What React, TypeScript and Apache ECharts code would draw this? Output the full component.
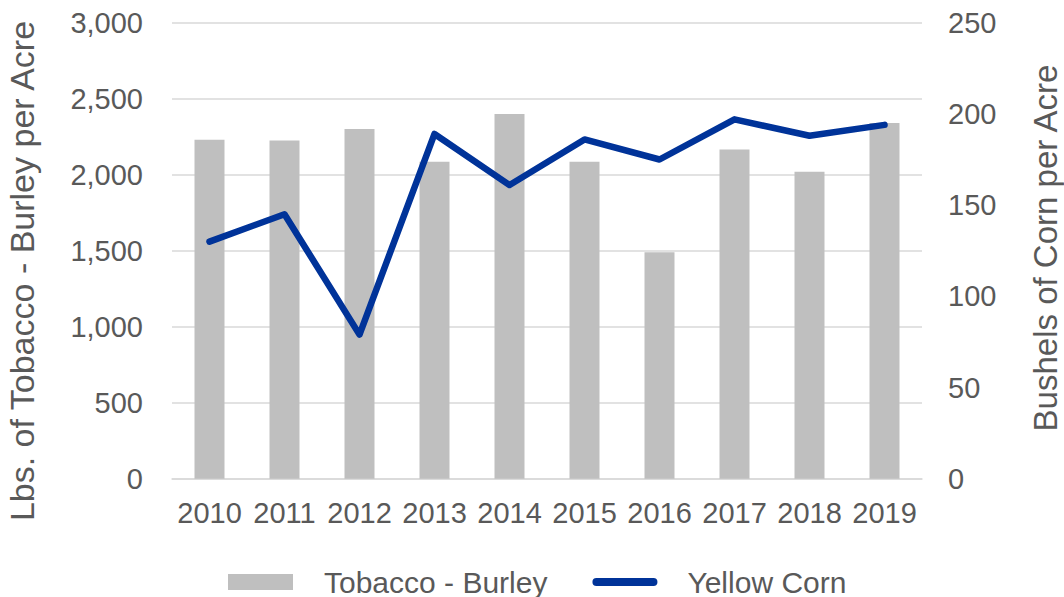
import React, { useEffect, useRef } from "react";
import * as echarts from "echarts";

const years = ["2010", "2011", "2012", "2013", "2014", "2015", "2016", "2017", "2018", "2019"];
const tobaccoBurley = [2230, 2225, 2300, 2085, 2400, 2085, 1490, 2165, 2020, 2340];
const yellowCorn = [130, 145, 79, 189, 161, 186, 175, 197, 188, 194];
const leftTitle = "Lbs. of Tobacco - Burley per Acre";
const rightTitle = "Bushels of Corn per Acre";

const FONT = "'Liberation Sans', Arial, sans-serif";
const TEXT = "#595959";
const LINE_ICON = "path://M4,0 L61,0 A4,4 0 0 1 61,8 L4,8 A4,4 0 0 1 4,0 Z";

export default function App() {
  const ref = useRef<HTMLDivElement>(null);
  useEffect(() => {
    if (!ref.current) return;
    const chart = echarts.init(ref.current, undefined, { renderer: "svg" });
    chart.setOption({
      animation: false,
      backgroundColor: "#ffffff",
      textStyle: { fontFamily: FONT },
      grid: { left: 172, right: 142, top: 22.7, bottom: 118.3, containLabel: false },
      legend: {
        left: 223,
        top: 562,
        itemWidth: 65,
        itemHeight: 16,
        itemGap: 45,
        symbolKeepAspect: true,
        textStyle: { fontFamily: FONT, fontSize: 30, lineHeight: 30, color: TEXT },
        data: [
          { name: "Tobacco - Burley", icon: "rect", textStyle: { padding: [0, 0, 0, 26] } },
          {
            name: "Yellow Corn",
            icon: LINE_ICON,
            itemStyle: { color: "#003399" },
            textStyle: { padding: [0, 0, 0, 25] },
          },
        ],
      },
      xAxis: {
        type: "category",
        data: years,
        axisLine: { lineStyle: { color: "#D9D9D9", width: 1.5 } },
        axisTick: { show: false },
        axisLabel: { color: TEXT, fontSize: 29, fontFamily: FONT, margin: 20, interval: 0 },
      },
      yAxis: [
        {
          type: "value",
          min: 0,
          max: 3000,
          interval: 500,
          axisLine: { show: false },
          axisTick: { show: false },
          splitLine: { lineStyle: { color: "#D9D9D9", width: 1.5 } },
          axisLabel: {
            color: TEXT,
            fontSize: 29,
            fontFamily: FONT,
            margin: 29,
            formatter: (v: number) => v.toLocaleString("en-US"),
          },
        },
        {
          type: "value",
          min: 0,
          max: 250,
          interval: 50,
          position: "right",
          axisLine: { show: false },
          axisTick: { show: false },
          splitLine: { show: false },
          axisLabel: { color: TEXT, fontSize: 29, fontFamily: FONT, margin: 26 },
        },
      ],
      series: [
        {
          name: "Tobacco - Burley",
          type: "bar",
          data: tobaccoBurley,
          barWidth: "40%",
          itemStyle: { color: "#BFBFBF" },
          yAxisIndex: 0,
        },
        {
          name: "Yellow Corn",
          type: "line",
          data: yellowCorn,
          yAxisIndex: 1,
          symbol: "none",
          lineStyle: { color: "#003399", width: 6.5, cap: "round", join: "round" },
          itemStyle: { color: "#003399" },
        },
      ],
      graphic: [
        {
          type: "text",
          x: 22,
          y: 271,
          rotation: Math.PI / 2,
          style: {
            text: leftTitle,
            fontFamily: FONT,
            fontSize: 34,
            fill: TEXT,
            align: "center",
            verticalAlign: "middle",
          },
        },
        {
          type: "text",
          x: 1045,
          y: 248,
          rotation: Math.PI / 2,
          style: {
            text: rightTitle,
            fontFamily: FONT,
            fontSize: 33,
            fill: TEXT,
            align: "center",
            verticalAlign: "middle",
          },
        },
      ],
    });
    return () => chart.dispose();
  }, []);
  return (
    <div
      ref={ref}
      style={{ position: "fixed", left: 0, top: 0, width: 1064, height: 597, background: "#fff" }}
    />
  );
}
